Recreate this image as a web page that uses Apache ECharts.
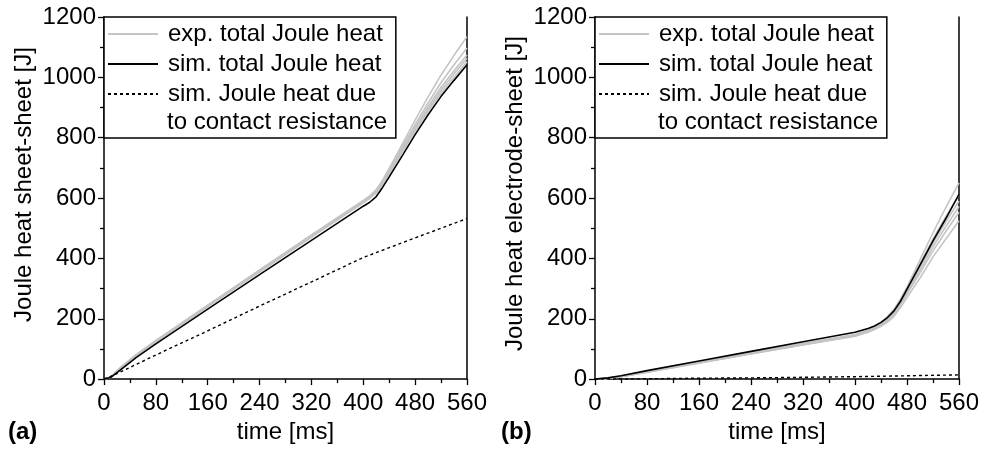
<!DOCTYPE html>
<html>
<head>
<meta charset="utf-8">
<script src="https://cdn.jsdelivr.net/npm/echarts@6/dist/echarts.min.js"></script>
<style>html,body{margin:0;padding:0;background:#fff}#c{width:983px;height:449px}</style>
</head>
<body>
<div id="c"></div>
<script>
// ---------- data: panel (a) sheet-sheet ----------
var timeA = [0,10,25,50,80,160,240,320,400,410,420,430,440,460,480,500,520,540,560];
var simTotalA = [0,5,30,72,117,232,346,460,573,586,605,636,670,740,810,876,937,990,1042];
var expA1 = [0,7,38,82,128,245,362,478,592,607,628,660,698,778,858,935,1008,1073,1135];
var expA2 = [0,6,36,80,126,243,360,476,590,605,625,656,692,768,843,915,983,1042,1097];
var expA3 = [0,6,35,79,125,242,358,474,588,603,622,653,688,762,835,903,967,1022,1074];
var expA4 = [0,5,34,78,124,241,357,472,586,601,620,650,684,757,828,895,957,1012,1063];
var expA5 = [0,5,33,77,123,240,355,470,584,599,617,646,680,752,822,888,948,1000,1052];
var timeContactA = [0,20,80,160,240,320,400,480,560];
var simContactA = [0,18,80,160,242,322,403,468,532];

// ---------- data: panel (b) electrode-sheet ----------
var timeB = [0,20,40,80,160,240,320,400,420,430,440,450,460,470,480,500,520,540,560];
var simTotalB = [0,4,11,28,60,92,124,155,168,176,188,204,226,258,298,378,458,533,612];
var expB1 = [0,3,9,25,56,87,118,148,163,174,188,207,232,266,305,395,485,570,650];
var expB2 = [0,3,9,25,55,86,117,146,160,171,184,202,224,259,298,382,465,540,610];
var expB3 = [0,3,9,24,55,86,116,145,159,170,182,199,221,254,292,372,450,522,590];
var expB4 = [0,3,8,24,54,85,115,144,158,168,180,196,218,250,287,362,438,506,572];
var expB5 = [0,2,8,23,54,84,114,143,157,166,178,194,215,246,282,352,425,490,553];
var expB6 = [0,2,8,23,53,83,113,142,155,164,175,189,208,237,270,335,405,465,525];
var timeContactB = [0,80,160,240,320,400,480,560];
var simContactB = [0,1,3,4,6,8,11,14];

// ---------- axis ticks ----------
var xTicks = [0,80,160,240,320,400,480,560];
var yTicks = [0,200,400,600,800,1000,1200];

var NAME_EXP = 'exp. total Joule heat';
var NAME_SIM = 'sim. total Joule heat';
var NAME_CON = 'sim. Joule heat due';
var FONT = 'Liberation Sans';
var FS = 24;

function pairs(t, v){ return t.map(function(x,i){ return [x, v[i]]; }); }

function grayS(t, v, gi){
  return {type:'line', name:NAME_EXP, xAxisIndex:gi, yAxisIndex:gi*2, data:pairs(t,v),
    symbol:'none', smooth:false, lineStyle:{color:'#c4c4c4', width:1.6}, color:'#c4c4c4', z:2};
}
function blackS(t, v, gi){
  return {type:'line', name:NAME_SIM, xAxisIndex:gi, yAxisIndex:gi*2, data:pairs(t,v),
    symbol:'none', smooth:false, lineStyle:{color:'#000', width:1.6}, color:'#000', z:3};
}
function dashS(t, v, gi){
  return {type:'line', name:NAME_CON, xAxisIndex:gi, yAxisIndex:gi*2, data:pairs(t,v),
    symbol:'none', lineStyle:{color:'#000', width:1.4, type:[3,3]}, color:'#000', z:3};
}

function plain(v){ return String(v); }

function xAx(gi){
  return {type:'value', gridIndex:gi, min:xTicks[0], max:xTicks[xTicks.length-1], interval:80,
    name:'time [ms]', nameLocation:'middle', nameGap:39,
    nameTextStyle:{fontFamily:FONT, fontSize:FS, color:'#000'},
    axisLine:{show:true, onZero:false, lineStyle:{color:'#000', width:1.5}},
    axisTick:{show:true, inside:false, length:6, lineStyle:{color:'#000', width:1.3}},
    minorTick:{show:true, splitNumber:2, length:4, lineStyle:{color:'#000', width:1.3}},
    splitLine:{show:false},
    axisLabel:{margin:12, fontFamily:FONT, fontSize:FS, color:'#000', formatter:plain}};
}
function yAx(gi, name, shift){
  return {type:'value', gridIndex:gi, min:yTicks[0], max:yTicks[yTicks.length-1], interval:200,
    name:name, nameLocation:'middle', nameGap:68,
    nameTextStyle:{fontFamily:FONT, fontSize:FS, color:'#000', padding:[0,0,0,shift]},
    axisLine:{show:true, onZero:false, lineStyle:{color:'#000', width:1.5}},
    axisTick:{show:true, inside:false, length:6, lineStyle:{color:'#000', width:1.3}},
    minorTick:{show:true, splitNumber:2, length:4, lineStyle:{color:'#000', width:1.3}},
    splitLine:{show:false},
    axisLabel:{margin:8, fontFamily:FONT, fontSize:FS, color:'#000', formatter:plain}};
}
function yRight(gi){
  return {type:'value', gridIndex:gi, position:'right', min:0, max:1200,
    axisLine:{show:true, onZero:false, lineStyle:{color:'#000', width:1.5}},
    axisTick:{show:false}, axisLabel:{show:false}, splitLine:{show:false}};
}
function legendAt(left){
  return {left:left, top:17, orient:'vertical', selectedMode:false,
    data:[NAME_EXP, NAME_SIM, NAME_CON],
    itemWidth:50, itemHeight:14, itemGap:0,
    padding:[2,13,29,3],
    itemStyle:{opacity:0, borderWidth:0},
    borderColor:'#000', borderWidth:1.5, backgroundColor:'#fff',
    textStyle:{fontFamily:FONT, fontSize:FS, color:'#000', lineHeight:30, padding:[0,0,0,5]}};
}

var series = [];
[expA1,expA2,expA3,expA4,expA5].forEach(function(v){ series.push(grayS(timeA, v, 0)); });
series.push(blackS(timeA, simTotalA, 0));
series.push(dashS(timeContactA, simContactA, 0));
[expB1,expB2,expB3,expB4,expB5,expB6].forEach(function(v){ series.push(grayS(timeB, v, 1)); });
series.push(blackS(timeB, simTotalB, 1));
series.push(dashS(timeContactB, simContactB, 1));

var chart = echarts.init(document.getElementById('c'), null, {renderer:'canvas'});
chart.setOption({
  animation:false,
  backgroundColor:'#fff',
  grid:[
    {left:104, right:516, top:17, bottom:69, containLabel:false},
    {left:595, right:24, top:17, bottom:69, containLabel:false}
  ],
  xAxis:[xAx(0), xAx(1)],
  yAxis:[yAx(0,'Joule heat sheet-sheet [J]',27), yRight(0), yAx(1,'Joule heat electrode-sheet [J]',9), yRight(1)],
  legend:[legendAt(104), legendAt(595)],
  graphic:[
    {type:'text', left:8, top:420, style:{text:'(a)', font:'bold 24px "Liberation Sans"', fill:'#000'}},
    {type:'text', left:501, top:420, style:{text:'(b)', font:'bold 24px "Liberation Sans"', fill:'#000'}},
    {type:'text', left:167, top:110, z:100, style:{text:'to contact resistance', font:FS+'px "Liberation Sans"', fill:'#000'}},
    {type:'text', left:658, top:110, z:100, style:{text:'to contact resistance', font:FS+'px "Liberation Sans"', fill:'#000'}}
  ],
  series:series
});
</script>
</body>
</html>
